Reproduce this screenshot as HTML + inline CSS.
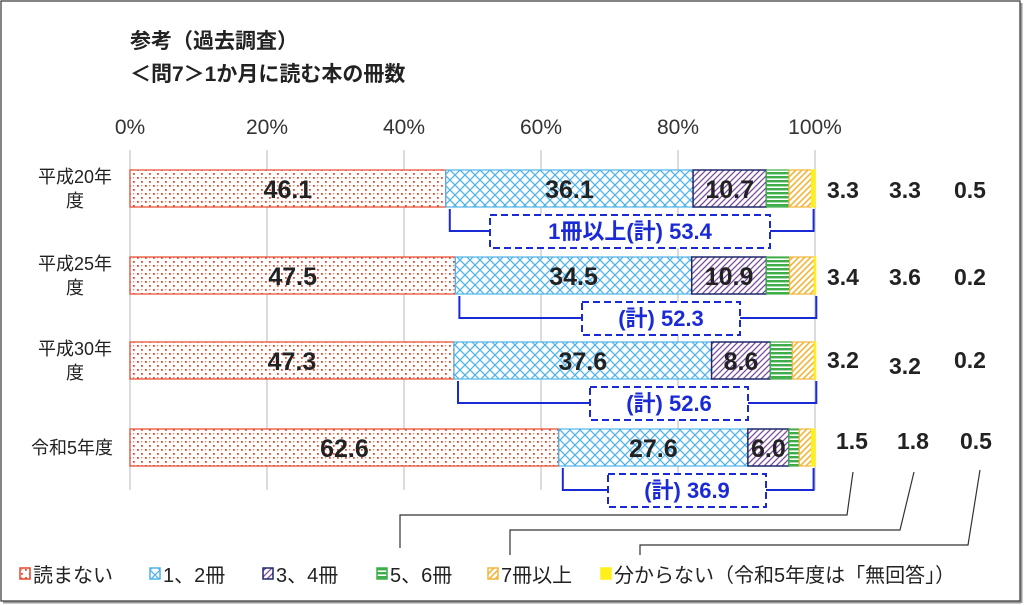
<!DOCTYPE html>
<html><head><meta charset="utf-8"><style>
body{margin:0;background:#fff;}
svg{display:block;font-family:"Liberation Sans","Noto Sans CJK JP",sans-serif;}
</style></head><body>
<svg width="1024" height="605" viewBox="0 0 1024 605">
<defs>
<pattern id="p0" width="8" height="8" patternUnits="userSpaceOnUse"><rect width="8" height="8" fill="#fff"/><rect x="1" y="1" width="1.8" height="1.8" fill="#e8472a"/><rect x="5" y="5" width="1.8" height="1.8" fill="#e8472a"/><rect x="5" y="1" width="1.3" height="1.3" fill="#f08070"/></pattern>
<pattern id="p1" width="10" height="10" patternUnits="userSpaceOnUse"><rect width="10" height="10" fill="#fff"/><path d="M0 0L10 10M10 0L0 10" stroke="#4fb3ea" stroke-width="1.3"/></pattern>
<pattern id="p2" width="6" height="6" patternUnits="userSpaceOnUse"><rect width="6" height="6" fill="#fff"/><path d="M-1 1L1 -1M0 6L6 0M5 7L7 5" stroke="#7a4aa0" stroke-width="1.3"/></pattern>
<pattern id="p3" width="4" height="4" patternUnits="userSpaceOnUse"><rect width="4" height="4" fill="#fff"/><rect width="4" height="2.4" fill="#3fae4a"/></pattern>
<pattern id="p4" width="6" height="6" patternUnits="userSpaceOnUse"><rect width="6" height="6" fill="#fff"/><path d="M-1 1L1 -1M0 6L6 0M5 7L7 5" stroke="#f3b53a" stroke-width="1.6"/></pattern>
</defs>
<rect x="1" y="1" width="1019" height="600" fill="#fff" stroke="#333" stroke-width="1.2"/>
<line x1="3" y1="602.5" x2="1021" y2="602.5" stroke="#999" stroke-width="2"/>
<line x1="1021.5" y1="3" x2="1021.5" y2="603" stroke="#999" stroke-width="2"/>
<text x="130" y="48" font-size="21" font-weight="bold" fill="#222">参考（過去調査）</text>
<text x="130" y="81" font-size="21" font-weight="bold" fill="#222">＜問7＞1か月に読む本の冊数</text>
<g id="grid"></g>
<g id="bars"></g>
<g id="legend"></g>
</svg>
<script>
const categories=["平成20年度","平成25年度","平成30年度","令和5年度"];
const s0=[46.1,47.5,47.3,62.6];
const s1=[36.1,34.5,37.6,27.6];
const s2=[10.7,10.9,8.6,6.0];
const s3=[3.3,3.4,3.2,1.5];
const s4=[3.3,3.6,3.2,1.8];
const s5=[0.5,0.2,0.2,0.5];
const totals=["1冊以上(計) 53.4","(計) 52.3","(計) 52.6","(計) 36.9"];
const ticks=[0,20,40,60,80,100];
const seriesNames=["読まない","1、2冊","3、4冊","5、6冊","7冊以上","分からない（令和5年度は「無回答」）"];

const NS="http://www.w3.org/2000/svg";
const X=v=>130+v*6.85;
const rowTop=[170,257,342,429], barH=37;
function el(t,a,p){const e=document.createElementNS(NS,t);for(const k in a)e.setAttribute(k,a[k]);p.appendChild(e);return e;}
const grid=document.getElementById('grid'),bars=document.getElementById('bars'),leg=document.getElementById('legend');
ticks.forEach(t=>{
 const l=el('line',{x1:X(t),x2:X(t),y1:150,y2:490,stroke:'#d0d0d0','stroke-width':1.5},grid);
 
 
 const tx=el('text',{x:X(t),y:134,'font-size':21,'text-anchor':'middle',fill:'#333'},grid);tx.textContent=t+'%';
 
 
});
const series=[s0,s1,s2,s3,s4,s5];
const fills=['url(#p0)','url(#p1)','url(#p2)','url(#p3)','url(#p4)','#ffef1a'];
const strokes=['#e8472a','#4fb3ea','#1e2a6a','#3fae4a','#f3b53a','#ffef1a'];
categories.forEach((c,i)=>{
 const y=rowTop[i];
 const lab=el('text',{x:75,y:i<3?y+13:y+25,'font-size':18,'text-anchor':'middle',fill:'#222'},bars);
 
 
 if(i<3){const t1=el('tspan',{x:75,dy:0},lab);t1.textContent=c.slice(0,5);const t2=el('tspan',{x:75,dy:24},lab);t2.textContent=c.slice(5);}
 else{lab.setAttribute('x',72);lab.textContent=c;}
 let acc=0;
 series.forEach((s,k)=>{
  const v=s[i];
  const r=el('rect',{x:X(acc),y:y,width:X(acc+v)-X(acc),height:barH,fill:fills[k],stroke:strokes[k],'stroke-width':k===2?1.5:1.2},bars);
  
  
  if(k<3){const t=el('text',{x:(X(acc)+X(acc+v))/2,y:y+28,'font-size':25,'font-weight':'bold','text-anchor':'middle',fill:'#222'},bars);t.textContent=v.toFixed(1);
   
   }
  acc+=v;
 });
 const rx=i<3?[843,905,970]:[852,913,976];
 const ry=i===2?[y+26,y+32,y+26]:[y+28,y+28,y+28];
 [s3,s4,s5].forEach((s,k)=>{const t=el('text',{x:rx[k],y:ry[k]-(i===3?8:0),'font-size':23,'font-weight':'bold','text-anchor':'middle',fill:'#222'},bars);t.textContent=s[i].toFixed(1);
  
  });
 const bx1=X(s0[i])+4, bx2=X(s0[i]+s1[i]+s2[i]+s3[i]+s4[i])+2, by=y+barH+24;
 const br=el('path',{d:`M${bx1} ${y+barH+2}V${by}H${bx2}V${y+barH+2}`,fill:'none',stroke:'#1a2bd6','stroke-width':2},bars);
 
 
 const bw=i===0?280:158, cx=i===0?630:[0,661,669,687][i];
 const bxr=el('rect',{x:cx-bw/2,y:by-16,width:bw,height:33,fill:'#fff',stroke:'#1a2bd6','stroke-width':2,'stroke-dasharray':'7 4'},bars);
 
 
 const tt=el('text',{x:cx,y:by+8,'font-size':22,'font-weight':'bold','text-anchor':'middle',fill:'#1a2bd6'},bars);tt.textContent=totals[i];
 
 
});
[[853,472,847,515,400,548],[914,472,900,530,510,555],[980,470,968,545,640,555]].forEach(p=>{
 const l=el('path',{d:`M${p[0]} ${p[1]}L${p[2]} ${p[3]}H${p[4]}V${p[5]}`,fill:'none',stroke:'#333','stroke-width':1.2},bars);
 
 
});
const lx=[20,150,263,377,488,601];
seriesNames.forEach((n,k)=>{
 const r=el('rect',{x:lx[k],y:568,width:10,height:11,fill:fills[k],stroke:strokes[k],'stroke-width':1.5},leg);
 
 
 const t=el('text',{x:lx[k]+13,y:582,'font-size':20,fill:'#222'},leg);t.textContent=n;
 
 
});
</script>
</body></html>
